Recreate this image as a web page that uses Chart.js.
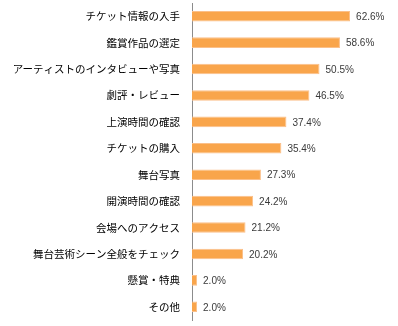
<!DOCTYPE html>
<html>
<head>
<meta charset="utf-8">
<script src="https://cdn.jsdelivr.net/npm/chart.js@4/dist/chart.umd.min.js"></script>
<style>
    html, body { margin: 0; padding: 0; background: #fff; }
    #wrap { width: 398px; height: 326px; position: relative; }
</style>
</head>
<body>
<div id="wrap"><canvas id="chart"></canvas></div>
<script>
const categories = [
    'チケット情報の入手',
    '鑑賞作品の選定',
    'アーティストのインタビューや写真',
    '劇評・レビュー',
    '上演時間の確認',
    'チケットの購入',
    '舞台写真',
    '開演時間の確認',
    '会場へのアクセス',
    '舞台芸術シーン全般をチェック',
    '懸賞・特典',
    'その他'
];
const percents = [62.6, 58.6, 50.5, 46.5, 37.4, 35.4, 27.3, 24.2, 21.2, 20.2, 2.0, 2.0];

// value labels at the end of each bar
const valueLabels = {
    id: 'valueLabels',
    afterDatasetsDraw(chart) {
        const ctx = chart.ctx;
        const meta = chart.getDatasetMeta(0);
        ctx.save();
        ctx.font = '10px "Liberation Sans", Arial, sans-serif';
        ctx.fillStyle = '#3a3a3a';
        ctx.textAlign = 'left';
        ctx.textBaseline = 'middle';
        meta.data.forEach((bar, i) => {
            ctx.fillText(percents[i].toFixed(1) + '%', bar.x + 6, bar.y + 1);
        });
        ctx.restore();
    }
};

new Chart(document.getElementById('chart'), {
    type: 'bar',
    data: {
        labels: categories,
        datasets: [{
            data: percents,
            backgroundColor: '#F9A54B',
            borderColor: '#FBC08A',
            borderWidth: 1,
            borderSkipped: 'left',
            barPercentage: 0.4,
            categoryPercentage: 1
        }]
    },
    options: {
        indexAxis: 'y',
        responsive: true,
        maintainAspectRatio: false,
        animation: false,
        layout: { padding: { top: 3, bottom: 6, left: 0, right: 4 } },
        scales: {
            x: {
                display: false,
                min: 0,
                max: 80
            },
            y: {
                afterFit(scale) {
                    scale.width = 192;
                    scale.paddingTop = 0;
                    scale.paddingBottom = 0;
                },
                grid: { display: false, drawTicks: false },
                border: { display: true, color: '#8c8c8c', width: 1 },
                ticks: {
                    padding: 12,
                    color: '#000',
                    font: { family: '"Noto Sans CJK JP", sans-serif', size: 10.5 }
                }
            }
        },
        plugins: {
            legend: { display: false },
            tooltip: { enabled: false }
        }
    },
    plugins: [valueLabels]
});
</script>
</body>
</html>
